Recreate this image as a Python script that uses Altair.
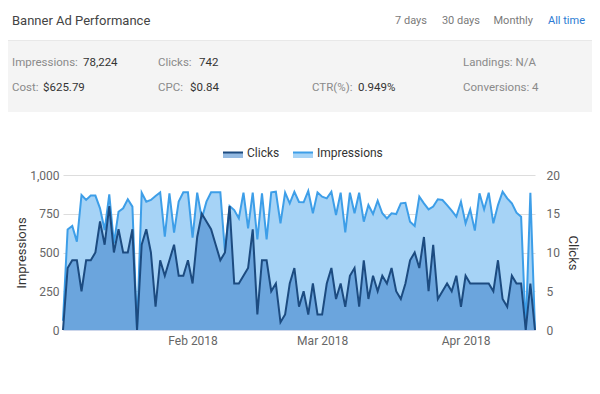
import altair as alt
import pandas as pd

# ---------------- data ----------------
clicks = [0, 8, 9, 9, 5, 9, 9, 10, 14, 11,
          16, 10, 13, 10, 10, 13, 0, 11, 13, 10,
          3, 9, 7, 9, 11, 7, 7, 9, 6, 12,
          15, 14, 13, 11, 9, 10, 16, 6, 6, 7,
          8, 13, 2, 9, 9, 5, 6, 1, 2, 6,
          8, 3, 5, 2, 6, 2, 2, 6, 8, 4,
          6, 3, 7, 8, 3, 9, 4, 7, 5, 7,
          6, 8, 5, 4, 6, 9, 10, 8, 12, 5,
          11, 4, 5, 6, 5, 7, 3, 7, 6, 6,
          6, 6, 6, 5, 9, 4, 3, 7, 6, 6,
          0, 6, 0]
impressions = [60, 649, 671, 570, 871, 839, 867, 867, 785, 645,
               875, 559, 763, 785, 843, 796, 0, 886, 828, 839,
               865, 888, 602, 882, 628, 828, 888, 888, 596, 886,
               720, 828, 888, 888, 888, 505, 800, 774, 720, 886,
               656, 886, 585, 882, 585, 888, 892, 688, 886, 817,
               892, 826, 824, 897, 753, 888, 860, 849, 892, 742,
               886, 630, 886, 753, 886, 699, 806, 748, 834, 753,
               720, 753, 748, 817, 821, 699, 671, 860, 817, 778,
               796, 843, 839, 806, 770, 731, 828, 688, 778, 641,
               882, 778, 886, 688, 806, 892, 849, 817, 757, 731,
               0, 886, 0]
dates = pd.date_range("2018-01-04", periods=len(clicks), freq="D")

month_ticks = [(2018, 2, 1), (2018, 3, 1), (2018, 4, 1)]
imp_ticks = [0, 250, 500, 750, 1000]
clk_ticks = [0, 5, 10, 15, 20]

title_text = "Banner Ad Performance"
tabs = ["7 days", "30 days", "Monthly", "All time"]
stat_labels = ["Impressions:", "Clicks:", "Landings: N/A", "Cost:", "CPC:", "CTR(%):", "Conversions: 4"]
stat_values = ["78,224", "742", "$625.79", "$0.84", "0.949%"]

df = pd.DataFrame({"date": dates, "Impressions": impressions, "Clicks": clicks})

FONT = "Roboto"
W, H = 472, 155
PL, PT = 55, 167
CW, CH = 584, 374

IMP_FILL = "#a6d3f6"
IMP_LINE = "#3d9ee8"
CLK_FILL = "#3a80c8"
CLK_LINE = "#1c4b80"

# ---------------- series ----------------
xenc = alt.X(
    "date:T",
    scale=alt.Scale(domain=[alt.DateTime(year=2018, month=1, date=4),
                            alt.DateTime(year=2018, month=4, date=16)]),
    axis=alt.Axis(values=[alt.DateTime(year=y, month=m, date=d) for y, m, d in month_ticks],
                  format="%b %Y", title=None, grid=False, ticks=False,
                  domainColor="#ccd6eb", labelColor="#666666", labelFontSize=12,
                  labelFont=FONT, labelPadding=5),
)

y_imp = alt.Y("Impressions:Q", scale=alt.Scale(domain=[0, 1000]),
              axis=alt.Axis(values=imp_ticks, format=",.0f", title="Impressions",
                            grid=True, gridColor="#dddddd", domain=False, ticks=False,
                            labelPadding=4, labelColor="#666666", labelFontSize=12, labelFont=FONT,
                            titleFont=FONT, titleFontSize=13, titleFontWeight="normal",
                            titleColor="#333333", titlePadding=1))
y_clk = alt.Y("Clicks:Q", scale=alt.Scale(domain=[0, 20]),
              axis=alt.Axis(values=clk_ticks, format=".0f", orient="right", title="Clicks",
                            grid=False, domain=False, ticks=False,
                            labelPadding=11, labelColor="#666666", labelFontSize=12, labelFont=FONT,
                            titleFont=FONT, titleFontSize=13, titleFontWeight="normal",
                            titleColor="#333333", titlePadding=6))

base = alt.Chart(df)
imp_layer = alt.layer(
    base.mark_area(color=IMP_FILL, opacity=1).encode(x=xenc, y=y_imp),
    base.mark_line(color=IMP_LINE, strokeWidth=2).encode(x=xenc, y=y_imp),
)
clk_layer = alt.layer(
    base.mark_area(color=CLK_FILL, opacity=0.55).encode(x=xenc, y=y_clk),
    base.mark_line(color=CLK_LINE, strokeWidth=2).encode(x=xenc, y=y_clk),
)

# ---------------- decoration (header, stats panel, legend) ----------------
one = pd.DataFrame({"k": [0]})


def rx(px):
    return px - (PL + 8)


def ry(py):
    return py - (PT + 8)


panel = alt.Chart(one).mark_rect(color="#f4f4f4").encode(
    x=alt.value(rx(8)), x2=alt.value(rx(8) + CW), y=alt.value(ry(41)), y2=alt.value(ry(112)))
sep = alt.Chart(one).mark_rule(color="#e8e8e8", strokeWidth=1).encode(
    x=alt.value(rx(8)), x2=alt.value(rx(8) + CW), y=alt.value(ry(40.5)))


def txt(s, px, py, color, size=12, align="left"):
    return alt.Chart(pd.DataFrame({"t": [s]})).mark_text(
        font=FONT, fontSize=size, color=color, align=align, baseline="middle"
    ).encode(text="t:N", x=alt.value(rx(px)), y=alt.value(ry(py)))


deco = [panel, sep, txt(title_text, 12, 21, "#444444", 13)]
tab_right = [427, 480, 533, 585]
for i, (t, px) in enumerate(zip(tabs, tab_right)):
    deco.append(txt(t, px, 21, "#2b7bd3" if i == len(tabs) - 1 else "#7a7a7a", 11, align="right"))

lab_pos = [(12, 63), (158, 63), (463, 63), (12, 88), (158, 88), (312, 88), (463, 88)]
for t, (px, py) in zip(stat_labels, lab_pos):
    deco.append(txt(t, px, py, "#8a8a8a", 11.5))
val_pos = [(83, 63), (199, 63), (43, 88), (190, 88), (358, 88)]
for t, (px, py) in zip(stat_values, val_pos):
    deco.append(txt(t, px, py, "#333333", 11.5))

# legend
legend_items = [("Clicks", 223, CLK_FILL, 0.55, CLK_LINE), ("Impressions", 293, IMP_FILL, 1.0, IMP_LINE)]
for name, px, fill, op, line in legend_items:
    deco.append(alt.Chart(one).mark_rect(color=fill, opacity=op).encode(
        x=alt.value(rx(px)), x2=alt.value(rx(px + 20)), y=alt.value(ry(152)), y2=alt.value(ry(158))))
    deco.append(alt.Chart(one).mark_rule(color=line, strokeWidth=2).encode(
        x=alt.value(rx(px)), x2=alt.value(rx(px + 20)), y=alt.value(ry(152.5))))
    deco.append(txt(name, px + 24, 153, "#333333", 12))

chart = alt.layer(*deco, imp_layer, clk_layer).resolve_scale(y="independent").properties(
    width=W, height=H,
    autosize=alt.AutoSizeParams(type="none"),
    padding={"left": PL, "top": PT, "right": CW - PL - W, "bottom": CH - PT - H},
    background="white",
).configure_view(stroke=None)

chart.save("out.html", embed_options={"renderer": "svg", "actions": False})
